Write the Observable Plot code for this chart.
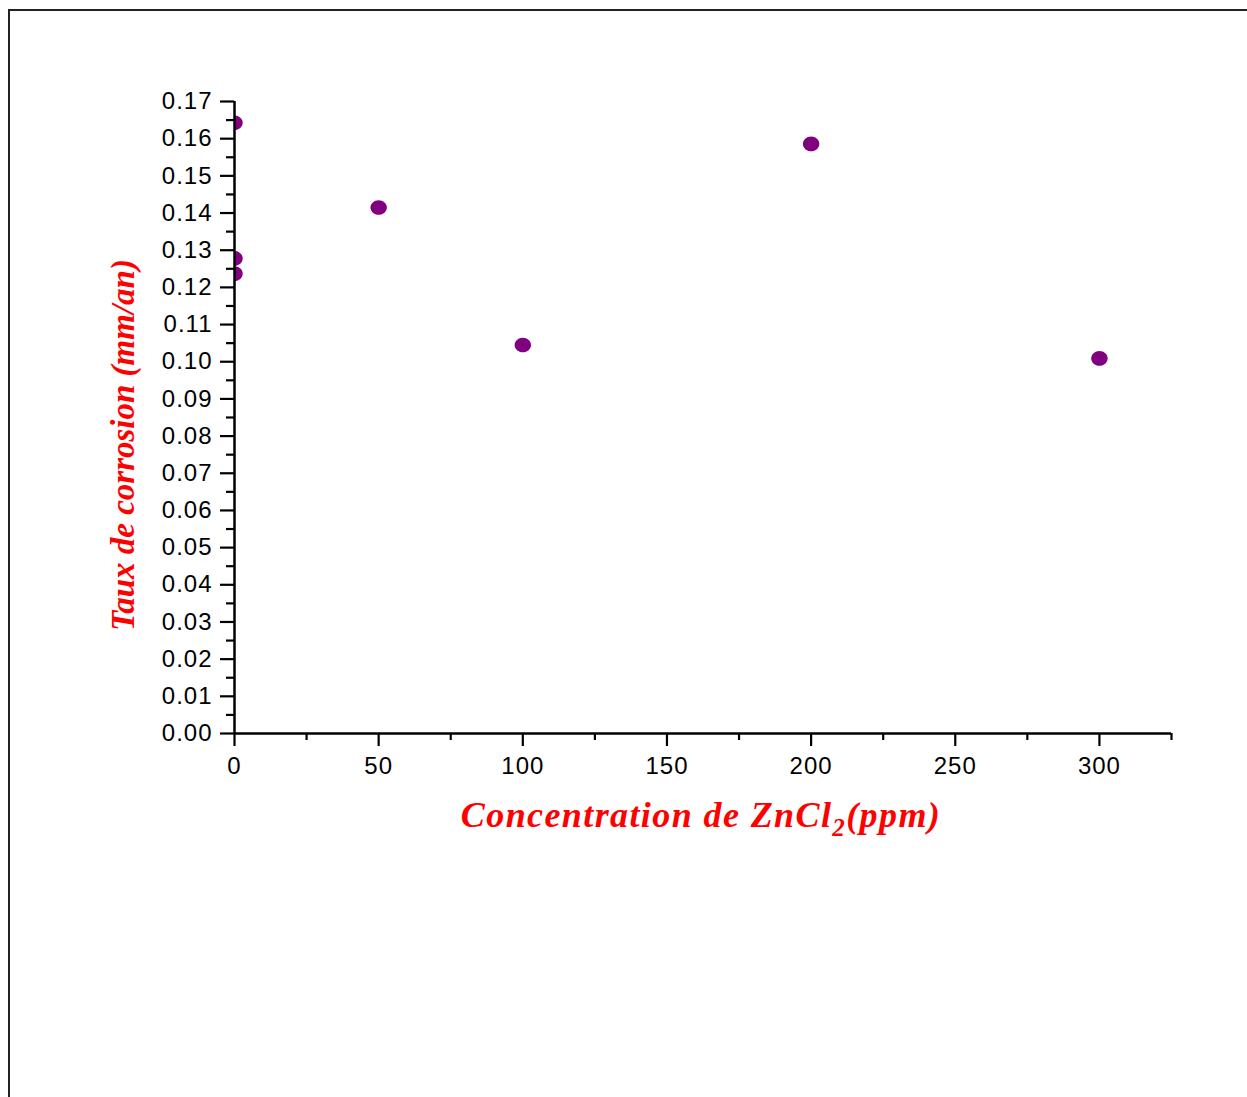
<!DOCTYPE html>
<html>
<head>
<meta charset="utf-8">
<script src="https://cdn.jsdelivr.net/npm/d3@7"></script>
<script src="https://cdn.jsdelivr.net/npm/@observablehq/plot@0.6"></script>
<style>
  html, body { margin: 0; padding: 0; background: #fff; }
  #wrap { position: relative; width: 1247px; height: 1097px; overflow: hidden; }
  #border { position: absolute; left: 8px; top: 9px; right: -5px; bottom: -5px;
            border-left: 2.5px solid #222; border-top: 2.5px solid #222; pointer-events: none; }
</style>
</head>
<body>
<div id="wrap"><div id="border"></div></div>
<script>
// ZnCl2 concentration (ppm) and measured corrosion rate (mm/an)
const concentration = [0, 0, 0, 50, 100, 200, 300];
const tauxCorrosion = [0.1643, 0.1278, 0.1237, 0.1415, 0.1045, 0.1586, 0.1009];

const xMajor = [0, 50, 100, 150, 200, 250, 300];
const xMinor = [25, 75, 125, 175, 225, 275, 325];
const yMajor = d3.range(0, 18).map(i => i / 100);
const yMinor = d3.range(0, 17).map(i => (i + 0.5) / 100);

const points = concentration.map((c, i) => ({c, v: tauxCorrosion[i]}));

// slightly wide ellipse marker
const ellipseSymbol = {
  draw(ctx, size) {
    const r = Math.sqrt(size / Math.PI);
    const rx = r * 1.08, ry = r * 0.96, k = 0.5523;
    ctx.moveTo(rx, 0);
    ctx.bezierCurveTo(rx, ry * k, rx * k, ry, 0, ry);
    ctx.bezierCurveTo(-rx * k, ry, -rx, ry * k, -rx, 0);
    ctx.bezierCurveTo(-rx, -ry * k, -rx * k, -ry, 0, -ry);
    ctx.bezierCurveTo(rx * k, -ry, rx, -ry * k, rx, 0);
    ctx.closePath();
  }
};

const tickFont = {fontSize: 24, fontFamily: "Liberation Sans, Arial, sans-serif"};

const plot = Plot.plot({
  width: 1247,
  height: 1097,
  marginLeft: 234,
  marginRight: 76,
  marginTop: 101,
  marginBottom: 364,
  style: {background: "transparent", color: "#000", overflow: "visible"},
  x: {domain: [0, 325]},
  y: {domain: [0, 0.17]},
  marks: [
    Plot.dot(points, {x: "c", y: "v", r: 7.6, symbol: ellipseSymbol, fill: "#800080", stroke: "none", clip: true}),
    // minor ticks
    Plot.axisX({ticks: xMinor, tickSize: 7, strokeWidth: 2.2, text: null, label: null}),
    Plot.axisY({ticks: yMinor, tickSize: 8, strokeWidth: 2.2, text: null, label: null}),
    // major ticks with labels
    Plot.axisX({ticks: xMajor, tickSize: 13, tickPadding: 10, strokeWidth: 2.2,
                tickFormat: d => d3.format("d")(d), label: null, ...tickFont}),
    Plot.axisY({ticks: yMajor, tickSize: 14, tickPadding: 8, strokeWidth: 2.2,
                tickFormat: d3.format(".2f"), label: null, ...tickFont}),
    // axis lines
    Plot.ruleY([0], {strokeWidth: 2.5}),
    Plot.ruleX([0], {strokeWidth: 2.5})
  ]
});

const svg = d3.select(plot);
svg.selectAll("g[aria-label='x-axis tick label'] text, g[aria-label='y-axis tick label'] text")
  .style("letter-spacing", "1px");

// axis titles (red bold italic serif, with subscript for ZnCl2)
const titleStyle = (t, size) => t
  .attr("fill", "#ff0000")
  .attr("font-family", "Liberation Serif, Times New Roman, serif")
  .attr("font-style", "italic")
  .attr("font-weight", "bold")
  .attr("font-size", size);

const xt = svg.append("text").call(titleStyle, 36)
  .attr("x", 701).attr("y", 827).attr("text-anchor", "middle")
  .style("letter-spacing", "1.4px");
xt.append("tspan").text("Concentration de ZnCl");
xt.append("tspan").attr("dy", 9).attr("font-size", 25).text("2");
xt.append("tspan").attr("dy", -9).text("(ppm)");

svg.append("text").call(titleStyle, 33)
  .attr("text-anchor", "middle")
  .attr("transform", "translate(134,445) rotate(-90)")
  .text("Taux de corrosion (mm/an)");

document.getElementById("wrap").appendChild(plot);
plot.style.position = "absolute";
plot.style.left = "0px";
plot.style.top = "0px";
</script>
</body>
</html>
